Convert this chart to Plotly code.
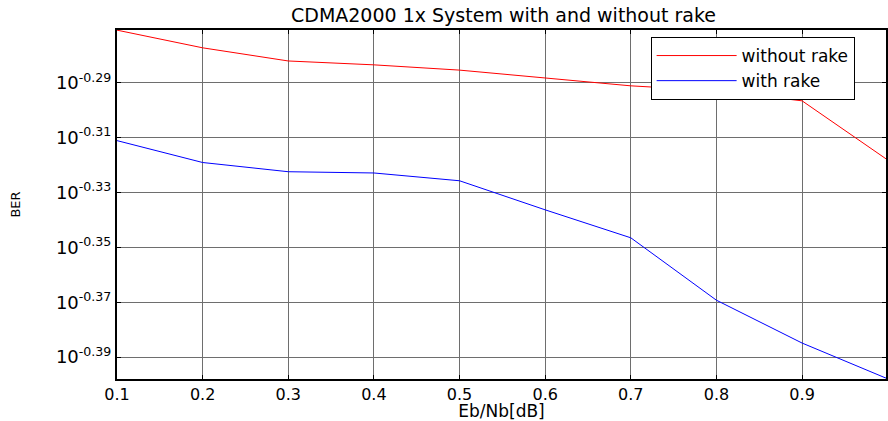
import plotly.graph_objects as go

ebnb = [0.1, 0.2, 0.3, 0.4, 0.5, 0.6, 0.7, 0.8, 0.9, 1.0]
ber_without_rake = [0.5361, 0.5282, 0.5224, 0.5207, 0.5184, 0.5150, 0.5116, 0.5095, 0.5052, 0.4807]
ber_with_rake = [0.4886, 0.4797, 0.4760, 0.4755, 0.4724, 0.4610, 0.4503, 0.4273, 0.4122, 0.4000]

y_tick_vals = [10 ** -0.29, 10 ** -0.31, 10 ** -0.33, 10 ** -0.35, 10 ** -0.37, 10 ** -0.39]
y_tick_text = ["10<sup>-0.29</sup>", "10<sup>-0.31</sup>", "10<sup>-0.33</sup>",
               "10<sup>-0.35</sup>", "10<sup>-0.37</sup>", "10<sup>-0.39</sup>"]
x_tick_vals = [0.1, 0.2, 0.3, 0.4, 0.5, 0.6, 0.7, 0.8, 0.9, 1.0]
x_tick_text = ["0.1", "0.2", "0.3", "0.4", "0.5", "0.6", "0.7", "0.8", "0.9", "1"]

font = "DejaVu Sans, Liberation Sans, Arial, sans-serif"

fig = go.Figure()
fig.add_trace(go.Scatter(x=ebnb, y=ber_without_rake, mode="lines", name="without rake",
                         line=dict(color="#ff0000", width=1)))
fig.add_trace(go.Scatter(x=ebnb, y=ber_with_rake, mode="lines", name="with rake",
                         line=dict(color="#0000ff", width=1)))

fig.update_layout(
    width=888, height=421,
    margin=dict(l=117, r=0, t=30, b=42),
    paper_bgcolor="white", plot_bgcolor="white",
    font=dict(family=font, size=16, color="black"),
    title=dict(text="CDMA2000 1x System with and without rake", x=(117 + 890) / 2 / 888,
               xanchor="center", y=1 - 15 / 421, yanchor="middle",
               font=dict(size=19, family=font, color="black")),
    showlegend=True,
    legend=dict(x=(652 - 117) / 771, y=(379 - 37) / 349, xanchor="left", yanchor="top",
                bordercolor="black", borderwidth=1, bgcolor="white",
                font=dict(size=17, family=font), itemwidth=80,
                tracegroupgap=0),
)
fig.update_xaxes(
    range=[0.1, 0.998], tickvals=x_tick_vals, ticktext=x_tick_text,
    showgrid=True, gridcolor="#6e6e6e", gridwidth=1,
    showline=True, linecolor="black", linewidth=2, mirror="ticks",
    ticks="inside", ticklen=4, tickcolor="black",
    tickfont=dict(size=16, family=font),
    title=dict(text="Eb/Nb[dB]", font=dict(size=17, family=font), standoff=4),
    zeroline=False,
)
fig.update_yaxes(
    type="log", range=[-0.398, -0.2707], tickvals=y_tick_vals, ticktext=y_tick_text,
    showgrid=True, gridcolor="#6e6e6e", gridwidth=1,
    showline=True, linecolor="black", linewidth=2, mirror="ticks",
    ticks="inside", ticklen=4, tickcolor="black",
    tickfont=dict(size=18, family=font),
    title=dict(text="BER", font=dict(size=13, family=font), standoff=32),
    zeroline=False,
)

fig.write_html("out.html")
